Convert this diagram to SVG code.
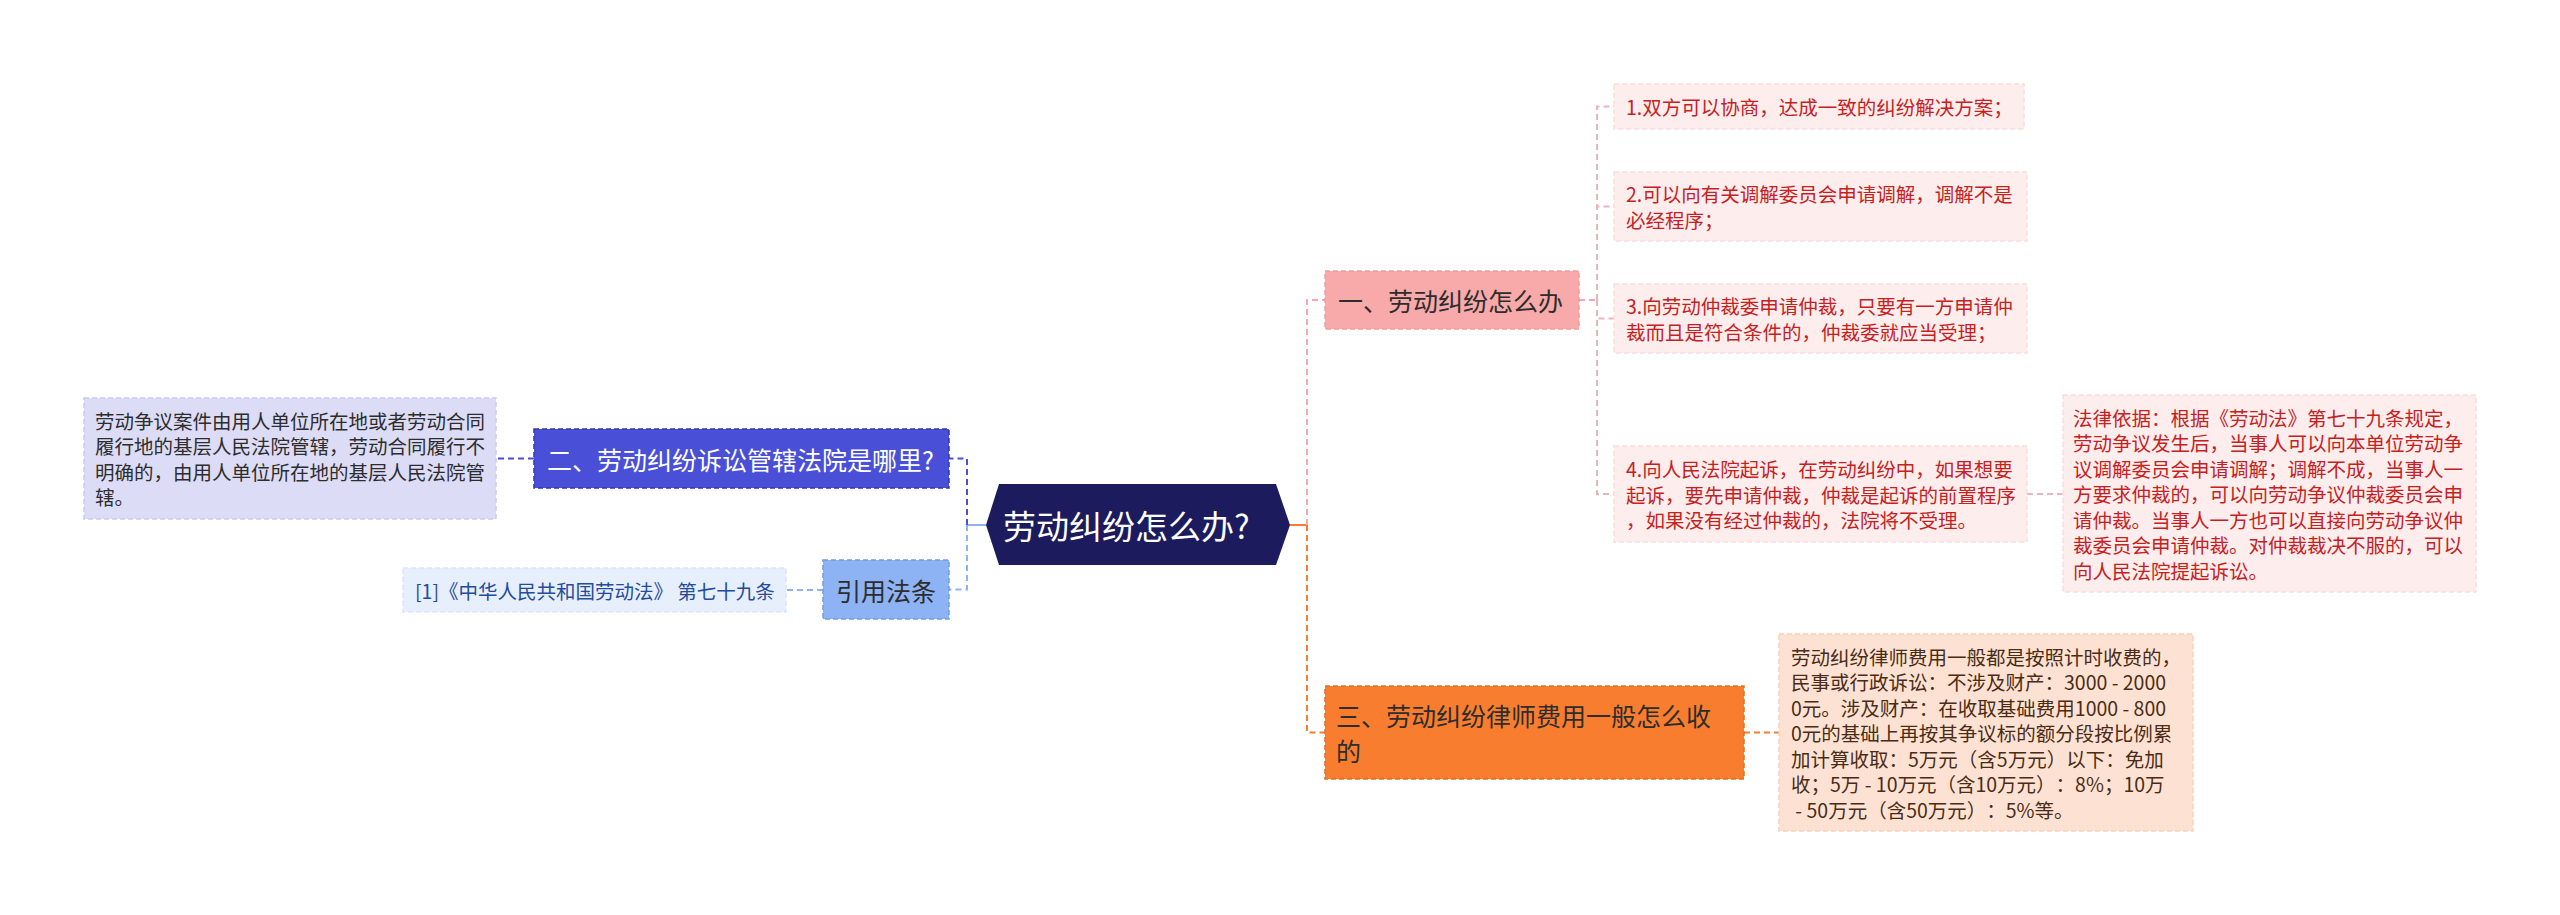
<svg xmlns="http://www.w3.org/2000/svg" width="2560" height="915" viewBox="0 0 2560 915">
<style>
text{font-family:"Noto Sans CJK SC","Noto Sans",sans-serif;dominant-baseline:central;text-spacing-trim:space-all;font-kerning:none;font-feature-settings:"halt" 0,"chws" 0,"palt" 0}
.c{fill:none;stroke-width:2;stroke-dasharray:6 4}
.s{fill:none;stroke-width:2}
.leaf{font-size:19.5px}
.main{font-size:25px}
</style>
<rect x="0" y="0" width="2560" height="915" fill="#ffffff"/>
<g id="connectors">
<path class="s" d="M967 525 H986" stroke="#8db3f5"/>
<path class="c" d="M967 525 V458.5 H949" stroke="#4a4fd8"/>
<path class="c" d="M967 525 V589.5 H949" stroke="#8db3f5"/>
<path class="c" d="M534 458.5 H496" stroke="#4a4fd8"/>
<path class="c" d="M823 590 H786" stroke="#8db3f5"/>
<path class="s" d="M1290 525 H1307" stroke="#f97d2f"/>
<path class="c" d="M1307 525 V300 H1325" stroke="#f2a8ae"/>
<path class="c" d="M1307 525 V732.5 H1325" stroke="#f97d2f"/>
<path class="c" d="M1579 300 H1597" stroke="#f2a8ae"/>
<path class="c" d="M1597 300 V106.5 H1614" stroke="#e6b6bd"/>
<path class="c" d="M1597 300 V206.5 H1614" stroke="#e6b6bd"/>
<path class="c" d="M1597 300 V318.5 H1614" stroke="#e6b6bd"/>
<path class="c" d="M1597 300 V494 H1614" stroke="#e6b6bd"/>
<path class="c" d="M2027 494 H2063" stroke="#e6b6bd"/>
<path class="c" d="M1744 732.5 H1779" stroke="#f97d2f"/>
</g>
<g id="root">
<polygon points="986,525 999,484 1276,484 1290,525 1276,565 999,565" fill="#1c1b5e"/>
<text x="1003" y="525" font-size="33" fill="#ffffff">劳动纠纷怎么办?</text>
</g>
<g id="n2">
<rect x="534" y="429" width="415" height="59" fill="#4a4fd8" stroke="#3438b0" stroke-width="1.5" stroke-dasharray="5 3"/>
<text class="main" x="547" y="458.5" fill="#ffffff">二、劳动纠纷诉讼管辖法院是哪里?</text>
</g>
<g id="n2leaf">
<rect x="84" y="398" width="412" height="121" fill="#dcdcf7" stroke="#cacaf0" stroke-width="1.5" stroke-dasharray="5 3"/>
<g class="leaf" fill="#2d2d2d">
<text x="95" y="420.25">劳动争议案件由用人单位所在地或者劳动合同</text>
<text x="95" y="445.75">履行地的基层人民法院管辖，劳动合同履行不</text>
<text x="95" y="471.25">明确的，由用人单位所在地的基层人民法院管</text>
<text x="95" y="496.75">辖。</text>
</g>
</g>
<g id="cite">
<rect x="823" y="560" width="126" height="59" fill="#8db3f5" stroke="#709be6" stroke-width="1.5" stroke-dasharray="5 3"/>
<text class="main" x="836" y="589.5" fill="#2d2d2d">引用法条</text>
</g>
<g id="citeleaf">
<rect x="403" y="568" width="383" height="44" fill="#e7effc" stroke="#dbe6fa" stroke-width="1.5" stroke-dasharray="5 3"/>
<text class="leaf" x="415" y="590" fill="#254c9c">[1]《中华人民共和国劳动法》 第七十九条</text>
</g>
<g id="n1">
<rect x="1325" y="271" width="254" height="58" fill="#f8a9a9" stroke="#f29a9a" stroke-width="1.5" stroke-dasharray="5 3"/>
<text class="main" x="1338" y="300" fill="#2d2d2d">一、劳动纠纷怎么办</text>
</g>
<g id="leaf1">
<rect x="1614" y="84" width="410" height="45" fill="#fdeded" stroke="#f8dede" stroke-width="1.5" stroke-dasharray="5 3"/>
<text class="leaf" x="1626" y="106.5" fill="#c5221f">1.双方可以协商，达成一致的纠纷解决方案；</text>
</g>
<g id="leaf2">
<rect x="1614" y="172" width="413" height="69" fill="#fdeded" stroke="#f8dede" stroke-width="1.5" stroke-dasharray="5 3"/>
<g class="leaf" fill="#c5221f">
<text x="1626" y="193.75">2.可以向有关调解委员会申请调解，调解不是</text>
<text x="1626" y="219.25">必经程序；</text>
</g>
</g>
<g id="leaf3">
<rect x="1614" y="284" width="413" height="69" fill="#fdeded" stroke="#f8dede" stroke-width="1.5" stroke-dasharray="5 3"/>
<g class="leaf" fill="#c5221f">
<text x="1626" y="305.75">3.向劳动仲裁委申请仲裁，只要有一方申请仲</text>
<text x="1626" y="331.25">裁而且是符合条件的，仲裁委就应当受理；</text>
</g>
</g>
<g id="leaf4">
<rect x="1614" y="446" width="413" height="96" fill="#fdeded" stroke="#f8dede" stroke-width="1.5" stroke-dasharray="5 3"/>
<g class="leaf" fill="#c5221f">
<text x="1626" y="468.5">4.向人民法院起诉，在劳动纠纷中，如果想要</text>
<text x="1626" y="494">起诉，要先申请仲裁，仲裁是起诉的前置程序</text>
<text x="1626" y="519.5">，如果没有经过仲裁的，法院将不受理。</text>
</g>
</g>
<g id="law">
<rect x="2063" y="395" width="413" height="197" fill="#fdeded" stroke="#f8dede" stroke-width="1.5" stroke-dasharray="5 3"/>
<g class="leaf" fill="#c5221f">
<text x="2073" y="417">法律依据：根据《劳动法》第七十九条规定，</text>
<text x="2073" y="442.5">劳动争议发生后，当事人可以向本单位劳动争</text>
<text x="2073" y="468">议调解委员会申请调解；调解不成，当事人一</text>
<text x="2073" y="493.5">方要求仲裁的，可以向劳动争议仲裁委员会申</text>
<text x="2073" y="519">请仲裁。当事人一方也可以直接向劳动争议仲</text>
<text x="2073" y="544.5">裁委员会申请仲裁。对仲裁裁决不服的，可以</text>
<text x="2073" y="570">向人民法院提起诉讼。</text>
</g>
</g>
<g id="n3">
<rect x="1325" y="686" width="419" height="93" fill="#f97d2f" stroke="#e86d20" stroke-width="1.5" stroke-dasharray="5 3"/>
<g class="main" fill="#2d2d2d">
<text x="1336" y="714.5">三、劳动纠纷律师费用一般怎么收</text>
<text x="1336" y="750">的</text>
</g>
</g>
<g id="fee">
<rect x="1779" y="634" width="414" height="197" fill="#fde2d3" stroke="#f9cfb8" stroke-width="1.5" stroke-dasharray="5 3"/>
<g class="leaf" fill="#4a2c14">
<text x="1791" y="656">劳动纠纷律师费用一般都是按照计时收费的，</text>
<text x="1791" y="681.5">民事或行政诉讼：不涉及财产：3000 - 2000</text>
<text x="1791" y="707">0元。涉及财产：在收取基础费用1000 - 800</text>
<text x="1791" y="732.5">0元的基础上再按其争议标的额分段按比例累</text>
<text x="1791" y="758">加计算收取：5万元（含5万元）以下：免加</text>
<text x="1791" y="783.5">收；5万 - 10万元（含10万元）：8%；10万</text>
<text x="1791" y="809" xml:space="preserve" style="white-space:pre"> - 50万元（含50万元）：5%等。</text>
</g>
</g>
</svg>
